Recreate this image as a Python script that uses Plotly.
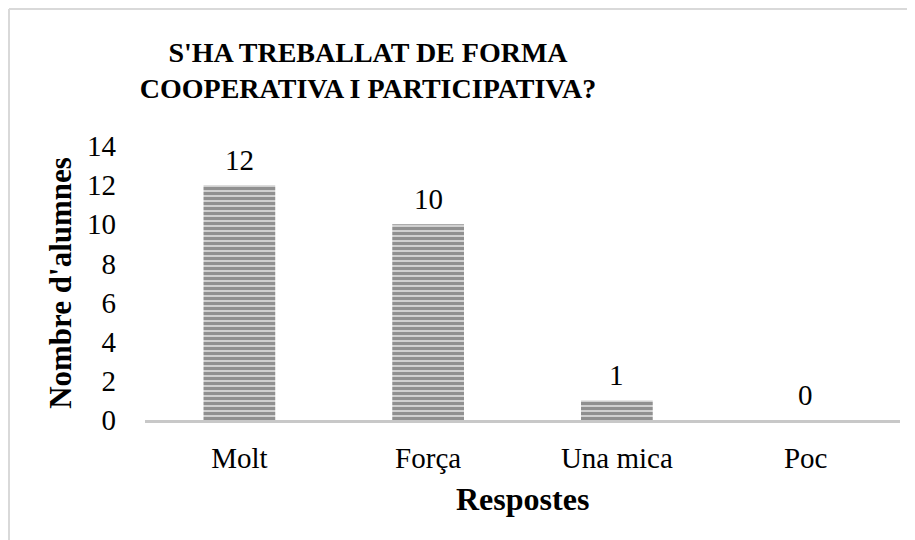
import plotly.graph_objects as go

categories = ["Molt", "Força", "Una mica", "Poc"]
values = [12, 10, 1, 0]
y_ticks = [0, 2, 4, 6, 8, 10, 12, 14]
title_text = "S'HA TREBALLAT DE FORMA<br>COOPERATIVA I PARTICIPATIVA?"
x_title = "Respostes"
y_title = "Nombre d'alumnes"

# page is 915x540; the figure div sits 8px in from top/left (body margin)
PAGE_W, PAGE_H, OFF = 915, 540, 8
W, H = PAGE_W - OFF, PAGE_H - OFF
# plot area in page pixels
PL, PR, PT, PB = 145, 900, 146, 420
ML, MR, MT, MB = PL - OFF, PAGE_W - PR, PT - OFF, PAGE_H - PB
PW, PH = PR - PL, PB - PT

def px_to_paper_x(px):
    return (px - PL) / PW

def px_to_paper_y(py):
    return (PB - py) / PH

FONT = "Liberation Serif, DejaVu Serif, serif"

fig = go.Figure()
fig.add_trace(go.Bar(
    x=categories, y=values,
    marker=dict(
        color="#c0c0c0",
        line=dict(width=0),
        pattern=dict(shape="-", fgcolor="#505050", bgcolor="#d0d0d0", size=5, solidity=0.6),
    ),
    hoverinfo="skip",
))

for c, v in zip(categories, values):
    fig.add_annotation(x=c, y=v, text=str(v), showarrow=False, yanchor="bottom",
                       yshift=7, font=dict(family=FONT, size=29, color="#000000"))

fig.add_annotation(text=x_title, xref="paper", yref="paper",
                   x=0.5, y=px_to_paper_y(499), showarrow=False,
                   xanchor="center", yanchor="middle",
                   font=dict(family=FONT, size=32, color="#000000", weight="bold"))

# chart border (top and left edges visible)
bc = "#d9d9d9"
fig.add_shape(type="line", xref="paper", yref="paper",
              x0=px_to_paper_x(9), x1=px_to_paper_x(PAGE_W + 5), y0=px_to_paper_y(9), y1=px_to_paper_y(9),
              line=dict(color=bc, width=2))
fig.add_shape(type="line", xref="paper", yref="paper",
              x0=px_to_paper_x(9), x1=px_to_paper_x(9), y0=px_to_paper_y(9), y1=px_to_paper_y(PAGE_H + 5),
              line=dict(color=bc, width=2))

fig.update_layout(
    width=W, height=H,
    margin=dict(l=ML, r=MR, t=MT, b=MB),
    paper_bgcolor="white", plot_bgcolor="white",
    bargap=0.62,
    showlegend=False,
    title=dict(text=title_text, xref="container", yref="container",
               x=(368 - OFF) / W, xanchor="center", y=1 - (62 - OFF) / H, yanchor="middle",
               font=dict(family=FONT, size=28, color="#000000", weight="bold")),
    xaxis=dict(showline=True, linecolor="#c8c8c8", linewidth=3, showgrid=False,
               ticks="", ticklabelstandoff=10,
               tickfont=dict(family=FONT, size=29, color="#000000")),
    yaxis=dict(range=[0, 14], tickvals=y_ticks, showline=False, showgrid=False,
               zeroline=False, ticks="", ticklabelstandoff=28,
               tickfont=dict(family=FONT, size=29, color="#000000"),
               title=dict(text=y_title, standoff=6,
                          font=dict(family=FONT, size=31, color="#000000", weight="bold"))),
)

fig.write_html("out.html")
